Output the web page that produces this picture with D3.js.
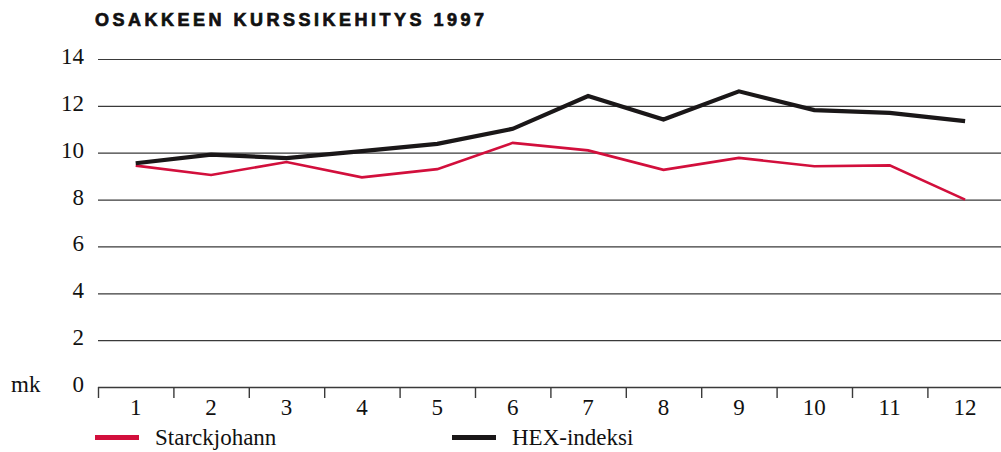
<!DOCTYPE html>
<html>
<head>
<meta charset="utf-8">
<script src="https://cdn.jsdelivr.net/npm/d3@7"></script>
<style>
body { margin: 0; background: #fff; }
svg { display: block; }
</style>
</head>
<body>
<div id="chart"></div>
<script>

var months = ["1","2","3","4","5","6","7","8","9","10","11","12"]
var yTicks = [0, 2, 4, 6, 8, 10, 12, 14]
var starckjohann = [9.45, 9.05, 9.6, 8.95, 9.3, 10.42, 10.1, 9.27, 9.78, 9.42, 9.46, 8.0]
var hexIndex = [9.55, 9.92, 9.77, 10.07, 10.38, 11.02, 12.42, 11.42, 12.62, 11.82, 11.7, 11.35]
var seriesNames = ["Starckjohann", "HEX-indeksi"]
var seriesColors = ["#d20f3c", "#1a1718"]

var W = 1001, H = 452

var margins = {top: 59, left: 98, bottom: 65}

var svg = d3.select("#chart").append("svg")
.attr("width", W)
.attr("height", H)

//Title
svg.append("text")
.attr("x", 95)
.attr("y", 26)
.text("OSAKKEEN KURSSIKEHITYS 1997")
.style("font-family", "Liberation Sans, Arial, sans-serif")
.style("font-weight", "bold")
.style("font-size", "18px")
.style("letter-spacing", "3.5px")
.style("fill", "#111")
.style("stroke", "#111")
.style("stroke-width", "0.7px")

var xScale = d3.scaleBand().domain(months).range([margins.left, margins.left + 12 * 75.4])
var yScale = d3.scaleLinear().domain([0, 14]).range([H - margins.bottom, margins.top])

//Gridlines
svg.append("g")
.selectAll("line")
.data(yTicks.slice(1))
.enter()
.append("line")
.attr("x1", margins.left)
.attr("x2", W)
.attr("y1", function(d){ return yScale(d) + 0.5 })
.attr("y2", function(d){ return yScale(d) + 0.5 })
.style("stroke", "#3a3a3a")
.style("stroke-width", "1.2px")

//Y labels
svg.append("g")
.selectAll("text")
.data(yTicks)
.enter()
.append("text")
.attr("x", 84)
.attr("y", function(d){ return yScale(d) + 5 })
.attr("text-anchor", "end")
.text(function(d){ return d })
.style("font-family", "Liberation Serif, Times New Roman, serif")
.style("font-size", "23px")
.style("fill", "#111")

svg.append("text")
.attr("x", 11)
.attr("y", yScale(0) + 5)
.text("mk")
.style("font-family", "Liberation Serif, Times New Roman, serif")
.style("font-size", "23px")
.style("fill", "#111")

//X axis
var xAxis = d3.axisBottom(xScale).tickSize(0).tickFormat(function(d){ return d })
var gx = svg.append("g")
.attr("transform", "translate(0," + yScale(0) + ")")
.call(xAxis)
gx.select(".domain").remove()
gx.selectAll("text")
.attr("dy", 0)
.attr("y", 28)
.style("font-family", "Liberation Serif, Times New Roman, serif")
.style("font-size", "23px")
.style("fill", "#111")

svg.append("line")
.attr("x1", margins.left)
.attr("x2", W)
.attr("y1", yScale(0) + 0.5)
.attr("y2", yScale(0) + 0.5)
.style("stroke", "#3a3a3a")
.style("stroke-width", "1.4px")

svg.append("g")
.selectAll("line")
.data(months)
.enter()
.append("line")
.attr("x1", function(d){ return xScale(d) + 0.5 })
.attr("x2", function(d){ return xScale(d) + 0.5 })
.attr("y1", yScale(0))
.attr("y2", yScale(0) + 11)
.style("stroke", "#3a3a3a")
.style("stroke-width", "1.4px")

//Lines
var line = d3.line()
.x(function(d, i){ return xScale(months[i]) + xScale.bandwidth() / 2 })
.y(function(d){ return yScale(d) })

var allSeries = [starckjohann, hexIndex]
var widths = [2.6, 4.2]

for(var i = 0; i < allSeries.length; i++){
svg.append("path")
.datum(allSeries[i])
.attr("d", line)
.style("fill", "none")
.style("stroke", seriesColors[i])
.style("stroke-width", widths[i] + "px")
.style("stroke-linejoin", "miter")
}

//Legend
var legendX = [95, 452]
for(var j = 0; j < seriesNames.length; j++){
svg.append("rect")
.attr("x", legendX[j])
.attr("y", 435)
.attr("width", 44)
.attr("height", 5)
.style("fill", seriesColors[j])

svg.append("text")
.attr("x", legendX[j] + 60)
.attr("y", 445)
.text(seriesNames[j])
.style("font-family", "Liberation Serif, Times New Roman, serif")
.style("font-size", "23px")
.style("fill", "#111")
}

</script>
</body>
</html>
